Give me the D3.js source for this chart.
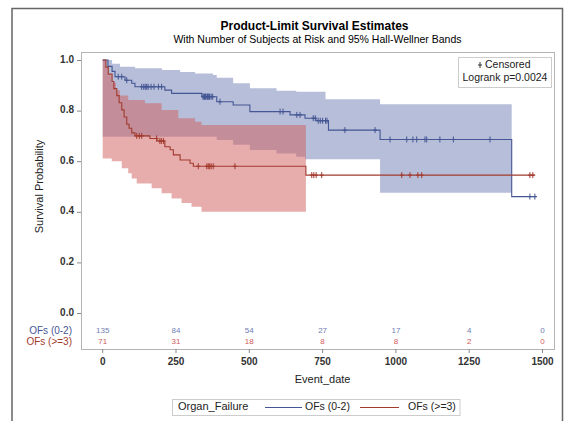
<!DOCTYPE html>
<html><head><meta charset="utf-8">
<script src="https://cdn.jsdelivr.net/npm/d3@7/dist/d3.min.js"></script>
<style>
body{margin:0;background:#fff}
svg{display:block}
text{font-family:"Liberation Sans",Arial,Helvetica,sans-serif}
</style>
</head><body>
<svg id="chart" width="565" height="421"></svg>
<script>
// ---------------- data ----------------
const groups = ["OFs (0-2)", "OFs (>=3)"];
const xTicks = [0, 250, 500, 750, 1000, 1250, 1500];
const yTicks = [0.0, 0.2, 0.4, 0.6, 0.8, 1.0];

// Kaplan-Meier step curves (time of step, survival after step)
const blueTimes = [0, 18, 32, 42, 76, 99, 110, 212, 235, 338, 389, 445, 502, 639, 690, 727, 770, 946, 1395, 1480];
const blueSurv  = [1, 0.975, 0.955, 0.934, 0.92, 0.908, 0.894, 0.881, 0.868, 0.855, 0.835, 0.822, 0.796, 0.783, 0.77, 0.76, 0.723, 0.686, 0.46, 0.46];
const redTimes  = [0, 11, 19, 32, 38, 48, 56, 65, 73, 82, 90, 99, 110, 161, 185, 212, 230, 241, 264, 298, 309, 693, 1475];
const redSurv   = [1, 0.972, 0.944, 0.915, 0.887, 0.859, 0.831, 0.803, 0.775, 0.746, 0.73, 0.712, 0.70, 0.69, 0.68, 0.657, 0.645, 0.625, 0.605, 0.592, 0.58, 0.545, 0.545];

// censored observation times
const blueCensored = [53, 65, 82, 133, 140, 145, 150, 155, 165, 175, 190, 201, 342, 345, 347, 350, 352, 356, 358, 360, 363, 365, 370, 375, 400,
  605, 615, 662, 673, 718, 725, 735, 742, 750, 760, 765, 826, 929, 980, 1037, 1058, 1071, 1099, 1105, 1150, 1196, 1321, 1457, 1474];
const redCensored = [116, 125, 133, 184, 195, 200, 207, 326, 355, 360, 365, 370, 377, 451, 713, 720, 728, 747,
  1020, 1048, 1075, 1088, 1457, 1467];

// 95% Hall-Wellner bands (step start times, lower, upper)
const blueBandT  = [0, 32, 59, 110, 202, 264, 315, 376, 389, 445, 502, 593, 660, 690, 760, 946, 1395];
const blueBandLo = [0.697, 0.697, 0.697, 0.697, 0.697, 0.697, 0.697, 0.697, 0.684, 0.665, 0.644, 0.63, 0.618, 0.608, 0.608, 0.475, 0.475];
const blueBandHi = [1.0, 0.985, 0.973, 0.967, 0.96, 0.953, 0.947, 0.941, 0.93, 0.908, 0.888, 0.878, 0.875, 0.875, 0.845, 0.825, 0.825];
const redBandT   = [0, 11, 19, 31, 45, 59, 65, 87, 99, 116, 144, 167, 201, 235, 258, 269, 303, 315, 337, 693];
const redBandLo  = [0.611, 0.611, 0.611, 0.60, 0.60, 0.60, 0.572, 0.552, 0.532, 0.512, 0.512, 0.493, 0.473, 0.453, 0.453, 0.435, 0.42, 0.42, 0.40, 0.40];
const redBandHi  = [1.0, 0.97, 0.94, 0.91, 0.88, 0.86, 0.86, 0.842, 0.842, 0.842, 0.829, 0.829, 0.802, 0.802, 0.77, 0.77, 0.77, 0.756, 0.743, 0.743];

// number at risk
const atRiskTimes = [0, 250, 500, 750, 1000, 1250, 1500];
const atRiskBlue  = [135, 84, 54, 27, 17, 4, 0];
const atRiskRed   = [71, 31, 18, 8, 8, 2, 0];

const pValueText = "Logrank p=0.0024";

// ---------------- drawing ----------------
const lineColors = ["#445694", "#A23A2E"];
const bandColors = ["#6F7EB3", "#D05B5B"];

const svg = d3.select("#chart");
const plot = {left: 81, top: 52, right: 554, bottom: 349};
const x = d3.scaleLinear().domain([0, 1500]).range([102.7, 542.5]);
const y = d3.scaleLinear().domain([0, 1]).range([313, 60]);

// outer frame
svg.append("rect").attr("x", 12).attr("y", 8.5).attr("width", 550.5).attr("height", 430)
  .attr("fill", "none").attr("stroke", "#666").attr("stroke-width", 1.5);

// titles
const cx = (plot.left + plot.right) / 2;
svg.append("text").attr("x", cx - 3).attr("y", 27).attr("text-anchor", "middle").attr("dominant-baseline", "middle")
  .attr("font-size", 12).attr("font-weight", "bold").attr("fill", "#000").text("Product-Limit Survival Estimates");
svg.append("text").attr("x", cx).attr("y", 40.5).attr("text-anchor", "middle").attr("dominant-baseline", "middle")
  .attr("font-size", 10.5).attr("fill", "#000").text("With Number of Subjects at Risk and 95% Hall-Wellner Bands");

// bands
function bandData(T, lo, hi) {
  return T.map((t, i) => ({t, lo: lo[i], hi: hi[i]}));
}
const area = d3.area().curve(d3.curveStepAfter)
  .x(d => x(d.t)).y0(d => y(d.lo)).y1(d => y(d.hi));
const bands = [bandData(blueBandT, blueBandLo, blueBandHi), bandData(redBandT, redBandLo, redBandHi)];
bands.forEach((b, i) => {
  svg.append("path").attr("d", area(b)).attr("fill", bandColors[i]).attr("fill-opacity", 0.5).attr("stroke", "none");
});

// plot frame
svg.append("rect").attr("x", plot.left + 0.5).attr("y", plot.top + 0.5)
  .attr("width", plot.right - plot.left).attr("height", plot.bottom - plot.top)
  .attr("fill", "none").attr("stroke", "#b4b4b4").attr("stroke-width", 1);

// curves
const line = d3.line().curve(d3.curveStepAfter).x(d => x(d.t)).y(d => y(d.s));
const curves = [
  blueTimes.map((t, i) => ({t, s: blueSurv[i]})),
  redTimes.map((t, i) => ({t, s: redSurv[i]}))
];
curves.forEach((c, i) => {
  svg.append("path").attr("d", line(c)).attr("fill", "none").attr("stroke", lineColors[i]).attr("stroke-width", 1.1);
});

// censored marks
function survAt(times, surv, t) {
  let s = surv[0];
  for (let i = 0; i < times.length; i++) { if (times[i] <= t) s = surv[i]; }
  return s;
}
const cens = [
  blueCensored.map(t => ({t, s: survAt(blueTimes, blueSurv, t)})),
  redCensored.map(t => ({t, s: survAt(redTimes, redSurv, t)}))
];
cens.forEach((c, i) => {
  svg.append("g").selectAll("path").data(c).join("path")
    .attr("transform", d => `translate(${x(d.t)},${y(d.s)})`)
    .attr("d", "M-2,0H2M0,-3V3").attr("stroke", lineColors[i]).attr("stroke-width", 1).attr("fill", "none");
});

// y axis ticks
const gy = svg.append("g");
gy.selectAll("line").data(yTicks).join("line")
  .attr("x1", plot.left - 4).attr("x2", plot.left).attr("y1", d => y(d) + 0.5).attr("y2", d => y(d) + 0.5)
  .attr("stroke", "#888");
gy.selectAll("text").data(yTicks).join("text")
  .attr("x", plot.left - 7).attr("y", d => y(d)).attr("text-anchor", "end").attr("dominant-baseline", "middle")
  .attr("font-size", 10).attr("font-weight", "bold").attr("fill", "#333").text(d => d3.format(".1f")(d));
svg.append("text").attr("transform", `translate(40,${(y(0) + y(1)) / 2}) rotate(-90)`)
  .attr("text-anchor", "middle").attr("dominant-baseline", "middle")
  .attr("font-size", 11).attr("fill", "#222").text("Survival Probability");

// x axis ticks
const gx = svg.append("g");
gx.selectAll("line").data(xTicks).join("line")
  .attr("x1", d => x(d)).attr("x2", d => x(d)).attr("y1", plot.bottom).attr("y2", plot.bottom + 4)
  .attr("stroke", "#888");
gx.selectAll("text").data(xTicks).join("text")
  .attr("x", d => x(d)).attr("y", plot.bottom + 13).attr("text-anchor", "middle").attr("dominant-baseline", "middle")
  .attr("font-size", 10).attr("font-weight", "bold").attr("fill", "#333").text(d => d);
svg.append("text").attr("x", x(750)).attr("y", 380).attr("text-anchor", "middle").attr("dominant-baseline", "middle")
  .attr("font-size", 11).attr("fill", "#222").text("Event_date");

// at-risk table
const riskRows = [atRiskBlue, atRiskRed];
const rowY = [331, 342];
riskRows.forEach((row, i) => {
  svg.append("text").attr("x", 72).attr("y", rowY[i]).attr("text-anchor", "end").attr("dominant-baseline", "middle")
    .attr("font-size", 10).attr("fill", lineColors[i]).text(groups[i]);
  svg.append("g").selectAll("text").data(row).join("text")
    .attr("x", (d, j) => x(atRiskTimes[j])).attr("y", rowY[i]).attr("text-anchor", "middle").attr("dominant-baseline", "middle")
    .attr("font-size", 8).attr("fill", bandColors[i]).text(d => d);
});

// inset legend (censored + p-value)
const inset = svg.append("g");
inset.append("rect").attr("x", 458.5).attr("y", 57.5).attr("width", 93).attr("height", 30)
  .attr("fill", "#fff").attr("stroke", "#ccc");
inset.append("path").attr("transform", "translate(480,65)").attr("d", "M-2,0H2M0,-3V3")
  .attr("stroke", "#333").attr("fill", "none");
inset.append("text").attr("x", 485).attr("y", 65).attr("dominant-baseline", "middle")
  .attr("font-size", 10.5).attr("fill", "#222").text("Censored");
inset.append("text").attr("x", 505).attr("y", 78).attr("text-anchor", "middle").attr("dominant-baseline", "middle")
  .attr("font-size", 10.5).attr("fill", "#222").text(pValueText);

// bottom legend
const lg = svg.append("g");
lg.append("rect").attr("x", 172.5).attr("y", 399.5).attr("width", 287.5).attr("height", 16)
  .attr("fill", "#fff").attr("stroke", "#ccc");
lg.append("text").attr("x", 178).attr("y", 407.5).attr("dominant-baseline", "middle")
  .attr("font-size", 11).attr("fill", "#222").text("Organ_Failure");
const legItems = [{x0: 265, x1: 302, tx: 305}, {x0: 360, x1: 399, tx: 408}];
legItems.forEach((it, i) => {
  lg.append("line").attr("x1", it.x0).attr("x2", it.x1).attr("y1", 407.5).attr("y2", 407.5)
    .attr("stroke", lineColors[i]).attr("stroke-width", 1.1);
  lg.append("text").attr("x", it.tx).attr("y", 407.5).attr("dominant-baseline", "middle")
    .attr("font-size", 10.5).attr("fill", "#222").text(groups[i]);
});
</script>
</body></html>
